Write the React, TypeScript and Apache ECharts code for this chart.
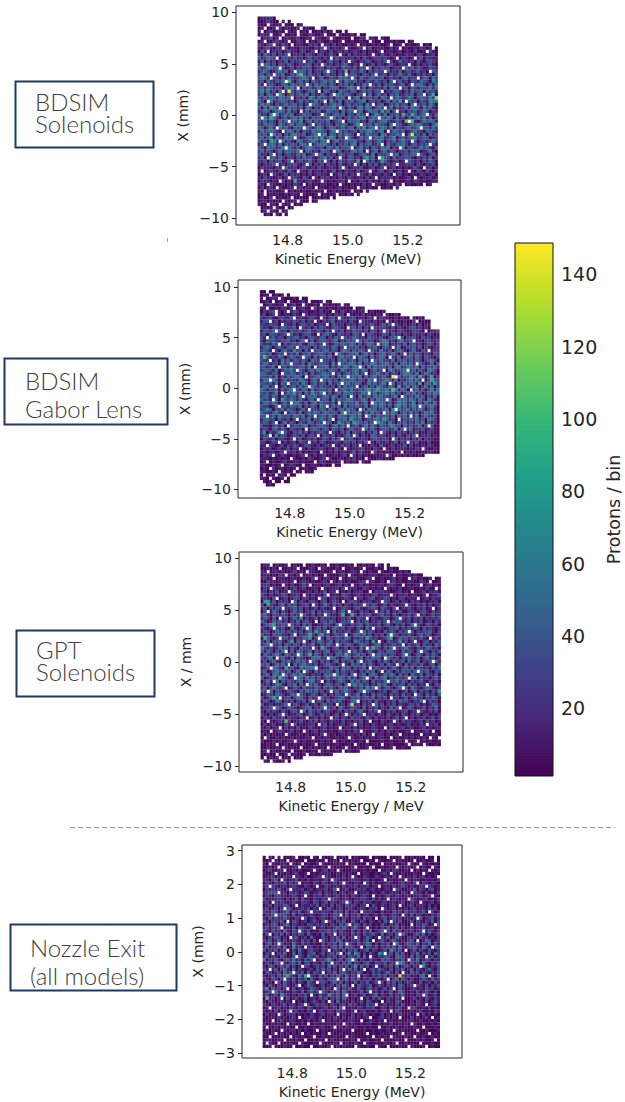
import React, { useEffect, useRef } from "react";
import * as echarts from "echarts";

// Cell levels estimated by eye from the reference picture, not exact bin counts.
// Rows run top to bottom; spaces only group the columns; a row ends where the beam envelope ends.
const LEVEL_VALUES: Record<string, number> = {
  "0": 3, "1": 15, "2": 28, "3": 40, "4": 52, "5": 63, "6": 75, "7": 86, "8": 96, "9": 106, "A": 118, "B": 128, "C": 148, "D": 138,
};
const ENERGY_RANGE = [14.7, 15.3];

const BDSIM_SOLENOIDS_ROWS = [
  "011120",
  "0012100110 0",
  "1001201100 00101",
  "0120010201 1002001000 120",
  "1001200100 1010010100 1020100000",
  "0211300120 0100100210 0110002100 010100",
  "1021301001 1012001101 1002110010 0100210110 0100",
  "0130012101 1002100010 2100200110 0100100210 0100101001 01",
  "2102311031 0201100212 0011020100 1012010010 1001200100 10012010",
  "1023102112 0110211002 1302011020 1001201301 1100201001 0010210100",
  "0313021201 3110220121 0210301212 0121020110 2201101201 1020010210",
  "2042130213 1021203210 2201310210 3021120121 0310210102 1102201120",
  "3124321032 2131202312 1020213121 1202031012 2121013021 0121302111",
  "1503120214 0312201320 3102412031 2210213201 2130201412 1203102321",
  "2234130321 3201213302 1231202134 1021320130 2102310121 3102021310",
  "3125423120 1302132301 2303121042 2130321402 1323012104 2413201321",
  "1342013524 0213431402 2141320219 0321420313 2203121402 3124120132",
  "2413203240 1326931421 3024120314 2331032142 1230312521 4102131203",
  "3541622031 4212353130 2401321534 2130421332 2401312034 1222143042",
  "2304213241 8203413042 1352420315 3241203214 2130432412 0321432053",
  "3152320143 1432420315 2431420324 1302153321 4032321340 2135420314",
  "2415313204 3521042312 5021334012 4523140321 2140531523 0421332514",
  "3625130421 C314202351 2043120532 1430242313 3202134203 1523404231",
  "2404312630 2413425031 1420315424 3102341502 4130324113 2403351380",
  "3142431532 4202130641 5231303240 2135042413 0431524312 530243252A",
  "4203512343 1302413125 1340621503 2413450231 3025142713 3240321654",
  "2534203124 2341302153 2041353402 4132306241 3501425132 0532241530",
  "3051642130 4231405302 1423351240 3204515302 4251503124 1533052410",
  "1243024531 5120314132 4015323051 3413402534 1725034120 3241253021",
  "4120635124 3501242301 2452134240 3215321026 3150324183 2841353214",
  "2352741023 1342513042 3124351302 4132550243 1325304120 4136251302",
  "3241320524 1342603514 2325013420 4335120431 3452114209 3910253441",
  "2153420531 3514420351 4213204253 0146432415 3320514310 2435412036",
  "4302513524 1042335213 5302431241 3405261340 2541503213 4225033142",
  "1524431042 5413042153 4320351423 1230425631 4502153240 1352204321",
  "3241652403 1553240135 2460431425 3204215323 0541325310 4C23150423",
  "2413504215 3452013425 2613640312 5201423524 3512360241 3451243012",
  "4130752241 3105412353 1442035124 3351204312 5303241352 1430221352",
  "1342441503 2431542013 4452130324 1550423412 3505214352 0341324021",
  "3204331250 4213024531 2304315132 4202513042 1535021240 3212524103",
  "2413202514 3325104312 0442135302 1452403125 0341320223 1434012510",
  "3120441302 3114250132 4303120431 2301342150 3224135023 2441320241",
  "1302331420 2203142310 2351302410 3312047240 1732041223 3102131402",
  "2130312301 4102312410 3212030421 3217024130 2731012013 3212031420",
  "1021230120 2231021302 1303120410 2113020314 0212130112 2203102130",
  "0211102103 1120131020 3101210312 0121300120 1230120101 0131021201",
  "1201210210 3102110301 1020130102 1103012110 2301301201 1102103102",
  "0120121013 0212010201 2110201312 0210210301 1021021201 0110210120",
  "1031101201 0221031021 0212010210 2101102013 0111201001 2001011201",
  "0211010120 1081101210 1210101120 1010210301 0202101001 1021010011",
  "1100210010 1021010201 0110010210 0101020101 1001102100 10010101",
  "0201201100 1101201101 0100101201 0100110100 1001001",
  "1010110010 0101010010 1010010100 1101001",
  "0110101001 0110010001 1010011010 1001",
  "0100210100 1100100100 101010",
  "0110101001 0110100001",
  "1000110010 10010",
  "0010101001 01",
  "0010110001",
  "0001001000",
];
const BDSIM_SOLENOIDS_EMPTY = [
  "", "7 9", "3 8 12", "2 6 14 19 20", "1 9 13 17 25 28", "4 8 13 22 26 33", "0 7 18 24 31 36 40", "2 10 16 28 37 41 49", "5 11 21 33 44 48 54", "8 22 29 35 47 58",
  "3 19 41 56", "10 27 38", "6 24 46 52", "15 30 43", "1 21 34 50", "7 36 48", "12 23 42 57", "5 29 39", "4 18 31 53", "9 26 45",
  "2 16 37 51", "13 33 47", "8 20 41", "6 25 35 55", "11 30 44", "3 22 49", "17 38 52", "7 27 42", "14 32 46", "5 21 36 56",
  "1 24 40", "10 28 50", "18 34 45", "6 15 39 54", "8 26 43", "4 20 33 48", "12 29 37", "7 23 51", "2 17 41 57", "9 31 47",
  "14 25 36", "5 19 44 53", "3 27 40", "11 22 35 49", "6 16 32 46", "8 28 42 55", "1 13 37 50", "4 24 33 45", "10 18 39 52", "7 21 30 44",
  "3 15 27 38 48 55", "6 12 19 33 40 45", "2 9 22 31 35 41", "2 14 20 26 32", "5 11 17 24", "8 13 17", "3 7 11", "0 5 9", "0 3 7", "0 1 5 8",
];

const BDSIM_GABOR_ROWS = [
  "00100",
  "0110010100 0",
  "1001210100 010100",
  "0120101100 1001201000 1010",
  "1012101100 1200210010 0010101010",
  "1120010210 2101200120 1101001000 010010",
  "0212301020 1320110010 2010110210 1101100100 01",
  "1301221011 0210320110 2201021200 1010201001 0010010",
  "2123102311 3012102210 1202310211 2301102100 2110010100 01010",
  "1332130212 1321302121 0212402120 3102211020 1021010010 0210100",
  "2213220321 1302321301 2130321202 1203212310 2313021020 1202011",
  "3120231432 2403212031 3210232102 2313021321 2210302101 2312010",
  "1332403120 3223124213 2031421302 1422130320 2331202210 1221020112",
  "2303321232 4120233102 1342103212 0331203210 1320312021 0211202101",
  "3142413203 2341203321 3302142031 2431204221 3102341302 2310312011",
  "2043321324 1202431402 3321340213 2304132201 3541203512 3211023112",
  "3121423031 2324103421 3220142432 4313024312 2450213140 2312013202",
  "1453024213 4212332041 3321430212 3241203241 0331425013 2413021012",
  "2431420352 1623041523 2441320453 1424310321 5213024310 2410323122",
  "3424013241 3150324123 4213024212 3350241302 3412420231 4132021032",
  "2941214302 4312532041 3324103523 2414320512 4303214023 3142032102",
  "3224130524 1331420532 4221305241 3304251432 4221503241 3142023520",
  "2441230524 3221405312 3320514323 4415032541 3352140432 4153201403",
  "3312504231 4223415042 3350314253 1442305142 3314045124 3250413241",
  "2343150243 5214203425 3214320531 2441530241 3505412351 2413205420",
  "4421330532 4313250412 3533414024 2351340235 2140320354 3150243120",
  "3324150314 2453041235 2441305241 3425041351 2410C24132 5417302702",
  "1442530241 3215420341 5324130532 4313205341 2353140213 4251403732",
  "3324150435 2241530241 3305124135 2343015241 3512403152 4317034272",
  "2451340241 3415240531 4221305142 3250241315 4214308125 1430251402",
  "4313250413 5221430512 3324051342 5213247247 3352951430 5241302514",
  "3241260415 3724051642 5313024153 4212530241 3352413024 2513014253",
  "2441530241 3315024351 2441530241 3205124153 4221350241 3152403140",
  "4231730732 5314203415 2330514235 4212530415 3324015342 5314205310",
  "1442530241 3352140351 4221305142 3251240352 4313025341 2503142150",
  "3220154231 4325031420 5331424051 3242150342 5313046241 3520413520",
  "2364032514 3202514231 4315203425 3302415341 2350614235 1425302410",
  "4221352041 3315024253 1442330514 2336041523 1442530241 5130243510",
  "3302415323 1442503241 3315204331 4425036114 2331405241 3150242130",
  "1452304213 0341325042 5314203351 7324013254 2741305132 4251305420",
  "2431320251 3204215313 2443017324 1753241327 4315203241 3142503120",
  "3110241302 1332450213 4320351424 1230251420 3214523041 3124021300",
  "1320341420 3212031342 1330421302 4212031420 2331240312 4021301200",
  "2703127231 0324130212 3210210314 0321302141 2310203120 2130102100",
  "1337071320 1321302313 0321301024 1230210431 2201302103 1310212010",
  "0321302210 2313012130 1320314012 3101210232 1220130212 0213021100",
  "2201321020 1203210120 3201121032 1302130102 1120130210 2130102000",
  "1102101302 1320132102 0121010312 0212010210 3101201130 2010102100",
  "0212012013 0212102011 2101031021 0112201021 0110201110 1021010010",
  "1101201201 1202010110 2101020110 1302100120 1010010101 0100101100",
  "0212010210 0101201020 1200110120 1202010010 1102001010 100100",
  "1110101010 1100102100 1202001101 1201001001 10100",
  "0110100120 0110100010 2100101101 0100100",
  "1100101001 2100100110 0100100",
  "0101201101 0110110010",
  "1100101101 01010010",
  "0101001101 00",
  "1100100110",
  "0101100100",
  "00010",
];
const BDSIM_GABOR_EMPTY = [
  "2", "3 8 10", "1 6 13", "4 9 16 21", "0 8 14 20 27", "2 11 17 31 35", "5 9 24 35 44", "5 14 29 41 47", "11 20 26 38 50 56", "3 18 33 42 52",
  "7 22 44", "13 29 37", "5 24 41 55", "9 19 34", "2 27 46", "15 32 51", "6 21 39", "12 28 44", "4 17 36 56", "8 25 48",
  "14 31 43", "3 20 37", "10 26 52", "6 18 33", "12 41 49", "7 24 35", "15 29 45", "3 20 38 54", "9 27 43", "5 16 32",
  "11 25 50", "7 21 36", "14 30 47", "4 19 42", "10 26 37", "6 22 53", "16 33 45", "8 28 41", "2 18 35 50", "12 24 46",
  "5 21 38", "9 29 56", "15 34 48", "7 23 40", "3 19 31 52", "11 27 44", "6 16 36 49", "2 24 33", "13 28 41 54", "8 20 37 47",
  "4 15 30 42 55", "10 22 35 46", "2 18 27 33", "7 14 24 27", "3 12 19", "6 11 14", "1 5 9", "3 8", "0 4 7", "0 1",
];

const GPT_SOLENOIDS_ROWS = [
  "0110010010 0100100100 1010010001 0100101001 010",
  "0010101001 0110001100 1100010100 1001100010 0101001",
  "1100110100 1201001100 1001201100 1100101001 1001001 010",
  "0110102101 1010011010 0210001201 1001001110 0110101001 0100",
  "1201201100 1100100211 0110100101 1200011100 1001201000 1201001101",
  "0021101110 1001210100 1200102101 0011201100 1001201001 1002101001",
  "1220100210 2001310011 0120012010 1102010101 1012100101 0110012010",
  "0210211020 1301200110 2101120201 1100210101 0110102001 1001020011",
  "1202130110 2110011020 1301110102 0112001021 2110012010 1001201120",
  "2102011320 1120110201 0320110321 0121010220 1110201120 1100120113",
  "1210320120 1320220101 2201210121 0212012301 1320102201 1120120211",
  "0771302120 1402102310 2301320102 3210212011 1320120210 2120101120",
  "2072102403 2301230120 1520312021 0212031320 1302101122 1021302012",
  "1302132011 2413020130 2101301321 0231012320 3210320213 1021301202",
  "0321420310 2413021403 1321302512 2103120101 3140213002 2102310312",
  "2410321320 3120310302 1231102801 8203123012 4120310213 1321201312",
  "1320402130 2416020130 3121201213 1032120210 1320142213 0213021213",
  "3201423120 2140231010 2314201323 1031240213 1301423112 0213012031",
  "0235712320 3120413001 1321043210 3124032113 0231021301 4021032120",
  "2102321300 5102314023 1301431302 1032041312 1013240213 1420312102",
  "1320142313 1413024173 1320412123 0132413201 0413203141 3021324103",
  "3120423110 3502137204 7130231320 1432413021 3041320213 1024132012",
  "0831024231 3021437023 1042132153 0213173120 1248014231 3214102131",
  "2140324103 7032410315 3124041321 0532130713 1032127130 2310240213",
  "1340213042 1320412501 3142103134 2014320134 0212312403 1240312042",
  "5213014250 3104221520 8310240130 2105142832 0314021352 1032143120",
  "3142031520 4053124032 1350124130 2413024103 2143210413 2041320314",
  "0421352043 1205138142 0312043283 1242303124 2313201423 0142031420",
  "2135032410 4032101435 1204310243 0215031423 0142130314 2130241302",
  "1302410325 1242410320 4130250312 4053124103 1420312304 1240213041",
  "3240152413 0413522130 1342102310 4231514201 3042132041 2314102403",
  "0132431072 3105243521 0114230524 0312403142 1302510231 4032120314",
  "2401352314 0251131041 3232051321 3103142402 3142031423 1403241032",
  "1340542041 3425310212 0434251320 5312403530 1425304130 5214032140",
  "3012418320 1243152413 0241324315 1302412041 3502142130 2403120241",
  "0241350413 2134024512 5031024310 5241320412 1403251420 3124103120",
  "2130254103 2504113241 0243132041 3524130215 2410312304 1302141032",
  "1302421320 1320412132 0414103241 0213152413 0231024130 5210243102",
  "3214032013 2104153241 3021241352 1024132102 1301420130 2403120317",
  "0132143201 4313201320 1402132104 1250310413 2103120412 0132041203",
  "2013720123 0244103120 3120123410 3241231402 1302120130 2412031420",
  "1320153021 3021304213 2041324101 3510213041 1021304231 0214103120",
  "3012011240 1320130120 3412041203 D120312041 3021302102 3130201431",
  "0213142013 2101234021 3021304201 3210402130 2104132013 2011302140",
  "1031210310 2312404213 0231012031 2034102130 1021301230 1203102130",
  "2102013120 1123014201 3120130213 0213011202 1031020310 2130120102",
  "0210311302 1102130120 2013120210 3121031020 1020130210 2011201302",
  "1031012192 0113102130 2102110301 0213012010 2101020312 1012031201",
  "0201201021 0301011202 1302011201 3012010210 1012011012 0102101120",
  "1020111020 1030102100 1201012011 0201010210 0102101201 1001201011",
  "0101012101 2010110120 1101002101 0210100120 1021010011 1010120100",
  "1010101001 0011010010 2010100101 1010201001 1010110010 1001010110",
  "0110010100 1010011001 0110010010 1001010101 1001010010 1010100101",
  "1000101001 1010100100 1010010100 1001010000 1001001001 0100101001",
  "0010100010 0100100100 1010010001 0010010010 1001000010 0110010010",
  "0010010010 1001001010 1000100101 0010010100 1001000100",
  "0100100100 1000100100 1010010001 0010",
  "0010010010 0100100100 1001",
  "0101010010 0010",
  "0100100100",
];
const GPT_SOLENOIDS_EMPTY = [
  "3 9 14 22 31 38 41", "6 12 19 27 34 41 46", "2 15 24 33 39 51 55", "8 13 21 29 44 54", "4 18 26 37 49 57", "11 23 35 42 56", "7 16 30 47 53", "3 20 28 41 58", "9 25 36 50", "14 22 43 55",
  "5 19 31 52", "10 27 40", "17 34 48", "7 24 45 57", "2 29 38", "13 21 52", "6 35 46", "18 30 42", "9 26 51", "4 15 37",
  "22 33 49", "11 28 43", "6 19 56", "14 39 51", "3 25 47", "17 35 44", "8 29 53", "12 37 48", "5 22 41", "16 33 57",
  "9 27 45", "3 18 36", "14 40 52", "7 24 31", "11 35 49", "4 20 42", "15 29 55", "8 38 47", "2 23 34", "12 28 51",
  "6 19 43", "17 32 54", "9 25 37", "4 21 46", "13 39 52", "7 28 34", "15 23 48", "2 36 44", "10 19 31 55", "6 26 41",
  "3 14 33 50 57", "8 21 37 46 53", "1 17 29 43 56 59", "11 24 35 52 48", "5 18 31 40 49 54", "7 13 22 28 36 44 50", "2 10 19 27 33", "5 9 15 24", "1 6 10", "0 3 8",
];

const NOZZLE_EXIT_ROWS = [
  "0110010000 1000100100 1001000101 0100010010 0010001000 1001010010",
  "0010101000 1000100010 0100100010 1010001001 0001001000 0100100100",
  "1001001100 1010010010 1000101000 1001010100 1010100100 1000101010",
  "0010100100 1200100100 1001010000 1000101100 1001001011 0100100010",
  "0120011100 1010001010 1201001000 1100101000 0010210010 0010100101",
  "1001201010 1200100101 1110010101 0010110010 1200100100 0100210010",
  "0112010211 0110200112 0210010201 0100210021 0110200101 0201201010",
  "1102300101 1301020110 1200210101 2110120100 1201001021 0110010102",
  "0210211302 1200110210 2101202110 0110120201 0121001201 0210210110",
  "1202101101 2100210110 0210110201 1201120110 0110201210 1002102101",
  "0212131020 1112012011 1201310120 0121201201 0110121001 1402102301",
  "1233301202 1201320113 0210201201 1201120110 2101110210 0211020102",
  "0210221101 2101210212 0210120110 2101210201 0121021011 0112012010",
  "2011121020 1303110210 2102210120 0112210302 0120210101 2101120102",
  "1202212101 2102210320 1302101213 0210212010 1201101200 2102101201",
  "0120211320 1202112130 2103021031 2101210310 2101201101 2011102010",
  "1301202132 0112130210 0131012012 1012102130 2201201010 1201103120",
  "2113201240 2130132121 2110312030 1203212100 2010312031 1201301201",
  "0213022310 3012012101 2201321030 2130120120 2101210310 3021010213",
  "1031211320 0212301201 2101310210 2120312020 2301312011 0104012302",
  "3102213020 3201201310 3021021300 3102102102 0410213001 3021021403",
  "0213301240 2101032121 2102103142 1320312010 3102130100 3021320103",
  "1302132010 2032103201 2010231410 2410231010 2130130201 2011301201",
  "2103120410 3102130102 1231402100 3020314012 4120312011 2012013102",
  "0310213020 2132041010 4021302110 3120312410 5012031410 0231402013",
  "1021320104 2301204100 3102130401 2130142010 2140132002 1203120102",
  "2130140201 2103120401 3102143010 2130240102 3102410102 3020143012",
  "0240213010 5103120100 3021304102 1031243020 2130241023 2130214031",
  "1302130400 5120312010 2102314032 2014032130 2131304102 2310420132",
  "3021301240 2051023110 2130210302 1301240210 1306213020 1302103102",
  "0213021400 5031023401 3023140025 1630203106 4113041300 2140213042",
  "1302103100 2031042130 1021301302 2140503102 1321043210 4031021302",
  "5021310241 5120314102 1372013024 1302103110 4231021300 2140132021",
  "0210324102 3140230210 3024120314 0210241032 1302106410 3120410213",
  "1032013140 2010320131 2041302130 2604130131 0213040132 0213610213",
  "2101302410 5021012031 4130203014 1302102314 2103021401 3021024103",
  "0320120413 0213040321 3021402310 2142010312 0241030210 4130210213",
  "1012031472 1041702104 1302132040 2130210213 130210D212 0103402103",
  "2103102410 3021304102 1032310240 3140213021 0210240310 2001320412",
  "0210230410 2031042102 3102413020 1302140130 2041302012 1003012031",
  "1031021310 1320142101 2012031420 1032124013 1021304201 2021030213",
  "2604120210 3012014210 3120130213 1031024120 1302103100 1201031201",
  "0120312010 2103024120 3102130420 1013024120 2013014200 1020131020",
  "1301206210 1021302103 1072130420 1201301240 2103021400 1021030120",
  "0912012030 1201301203 1302130420 1012020314 1021021300 1201031021",
  "1021012010 2010201310 2012040110 2013032010 1021032000 1021020131",
  "2102101301 2012020131 2102101203 1201031200 1201020300 1021010120",
  "0120120102 1021032010 1201203100 1021021300 2102012000 1200102010",
  "1010201020 1201021302 1021031200 1201201020 1201031000 1012001021",
  "0201012011 2010102101 2011020100 2010210100 2010102101 0010201010",
  "1011020101 2010112102 0010210201 2010121001 2010102000 2010120101",
  "0101012001 1001020102 1010101001 1001002101 0101001001 1001001010",
  "1001010010 1001010110 1010010010 1001011001 0102001010 0100100101",
  "0200101010 0100100101 1001001010 0100101001 0010010010 0100100010",
  "0101000101 1010100100 1000100100 1000100101 0010010100 0010010001",
  "1001001010 1010010100 1001001000 1000100100 1001001001 0010010010",
  "0010001000 0101001000 1000100010 1000010001 0100100010 0100100100",
  "0110010001 0100100101 0001001000 1000010010 1000010010 0010100100",
  "0010010001 0001000100 1000100010 0100010010 0100100010 0001000100",
  "0010100100 1001001001 0010010100 0010010001 0010001000 1000100100",
];
const NOZZLE_EXIT_EMPTY = [
  "1 4 6 11 16 19 24 29 36 42 47 55 58", "3 8 14 21 26 33 38 44 51 58", "2 9 13 19 28 35 40 49 53", "5 12 22 31 37 45 52 57", "7 17 25 39 50 56", "4 15 32 43 54", "10 20 30 46 59", "6 23 41 48", "12 27 34 52", "2 18 39 55",
  "9 25 44", "5 31 50", "14 37 57", "22 42 49", "3 28 53", "11 35 46", "7 19 40", "16 33 56", "4 26 47", "13 38 52",
  "8 21 43", "29 50 58", "6 17 35", "12 41 54", "2 24 46", "9 31 39", "19 37 52", "5 28 44", "14 33 57", "8 22 48",
  "3 26 41", "11 36 55", "17 30 49", "6 23 45", "13 38 53", "2 27 34", "10 20 47", "15 32 56", "7 25 42", "4 18 39",
  "12 30 51", "8 24 44", "3 19 36", "16 28 54", "6 33 47", "10 22 40", "14 38 55", "2 27 49", "9 17 31 43", "5 25 52",
  "12 36 46 57", "3 20 33 41", "8 15 27 50", "1 11 24 39 54", "6 18 30 44 52", "4 13 22 35 47 56", "2 9 17 28 37 43 51", "7 14 21 32 40 48 58", "1 5 12 19 26 34 45 53", "3 10 16 23 31 38 42 49 55",
];

const PANELS = [
  { rows: BDSIM_SOLENOIDS_ROWS, empty: BDSIM_SOLENOIDS_EMPTY, yRange: [-9.8, 9.6], yTicks: [-10, -5, 0, 5, 10], xTitle: "Kinetic Energy (MeV)", yTitle: "X (mm)" },
  { rows: BDSIM_GABOR_ROWS, empty: BDSIM_GABOR_EMPTY, yRange: [-9.7, 9.7], yTicks: [-10, -5, 0, 5, 10], xTitle: "Kinetic Energy (MeV)", yTitle: "X (mm)" },
  { rows: GPT_SOLENOIDS_ROWS, empty: GPT_SOLENOIDS_EMPTY, yRange: [-9.7, 9.5], yTicks: [-10, -5, 0, 5, 10], xTitle: "Kinetic Energy / MeV", yTitle: "X / mm" },
  { rows: NOZZLE_EXIT_ROWS, empty: NOZZLE_EXIT_EMPTY, yRange: [-2.85, 2.85], yTicks: [-3, -2, -1, 0, 1, 2, 3], xTitle: "Kinetic Energy (MeV)", yTitle: "X (mm)" },
];
const ENERGY_TICKS = [14.8, 15.0, 15.2];
const COLORBAR_TICKS = [20, 40, 60, 80, 100, 120, 140];
const VIRIDIS = ["#440154", "#482878", "#3e4989", "#31688e", "#26828e", "#1f9e89", "#35b779", "#6ece58", "#b5de2b", "#fde725"];

const LAYOUT = [
  { left: 236, top: 6, width: 224, height: 219, xMin: 14.628, xMax: 15.374, yMin: -10.68, yMax: 10.62, nameX: 46 },
  { left: 238, top: 280, width: 223, height: 218, xMin: 14.627, xMax: 15.372, yMin: -10.85, yMax: 10.7, nameX: 46 },
  { left: 239, top: 552, width: 224, height: 220, xMin: 14.628, xMax: 15.374, yMin: -10.6, yMax: 10.6, nameX: 46 },
  { left: 242, top: 845, width: 220, height: 213, xMin: 14.63, xMax: 15.375, yMin: -3.15, yMax: 3.17, nameX: 37 },
];
const LABEL_BOXES = [
  { x: 15.5, y: 81.5, w: 138, h: 66, lines: ["BDSIM", "Solenoids"], tx: 35, ty: [101, 123] },
  { x: 4.5, y: 358.5, w: 163, h: 66, lines: ["BDSIM", "Gabor Lens"], tx: 25, ty: [380, 408] },
  { x: 16.5, y: 630.5, w: 138, h: 66, lines: ["GPT", "Solenoids"], tx: 36, ty: [649, 671] },
  { x: 10.5, y: 924.5, w: 166, h: 66, lines: ["Nozzle Exit", "(all models)"], tx: 30, ty: [947, 975] },
];

const FONT = "'DejaVu Sans'";
const INK = "#262626";
const minusSign = (v: number) => String(v).replace("-", "\u2212");

function cellsOf(rows: string[], empty: string[], yRange: number[]) {
  const nx = 60, ny = 60;
  const dx = (ENERGY_RANGE[1] - ENERGY_RANGE[0]) / nx;
  const dy = (yRange[1] - yRange[0]) / ny;
  const out: number[][] = [];
  rows.forEach((row, r) => {
    const clean = row.replace(/ /g, "");
    const holes = new Set((empty[r] || "").split(" ").filter(Boolean).map(Number));
    for (let c = 0; c < clean.length && c < nx; c++) {
      if (holes.has(c)) continue;
      const v = LEVEL_VALUES[clean[c]];
      if (v === undefined) continue;
      const x0 = ENERGY_RANGE[0] + c * dx;
      const y1 = yRange[1] - r * dy;
      out.push([x0, y1 - dy, v, x0 + dx, y1]);
    }
  });
  return out;
}

const renderCell = (_: any, api: any) => {
  const a = api.coord([api.value(0), api.value(4)]);
  const b = api.coord([api.value(3), api.value(1)]);
  return {
    type: "rect",
    shape: { x: a[0], y: a[1], width: b[0] - a[0] + 0.15, height: b[1] - a[1] + 0.15 },
    style: { fill: api.visual("color") },
  };
};

const renderBarCell = (_: any, api: any) => {
  const a = api.coord([api.value(0), api.value(4)]);
  const b = api.coord([api.value(3), api.value(1)]);
  return {
    type: "rect",
    shape: { x: a[0], y: a[1] - 0.8, width: b[0] - a[0], height: b[1] - a[1] + 1.6 },
    style: { fill: api.visual("color") },
  };
};

function buildOption() {
  const grid: any[] = [], xAxis: any[] = [], yAxis: any[] = [], series: any[] = [];
  PANELS.forEach((p, i) => {
    const l = LAYOUT[i];
    grid.push({ left: l.left, top: l.top, width: l.width, height: l.height, show: true, borderColor: INK, borderWidth: 1, backgroundColor: "#fff" });
    xAxis.push({
      gridIndex: i, type: "value", min: l.xMin, max: l.xMax, splitLine: { show: false },
      axisLine: { show: false },
      axisTick: { show: true, length: 4, lineStyle: { color: INK }, customValues: ENERGY_TICKS },
      axisLabel: { color: INK, fontFamily: FONT, fontSize: 14, margin: 8, customValues: ENERGY_TICKS, formatter: (v: number) => v.toFixed(1) },
      name: p.xTitle, nameLocation: "middle", nameGap: 27, nameTextStyle: { color: INK, fontFamily: FONT, fontSize: 14 },
    });
    yAxis.push({
      gridIndex: i, type: "value", min: l.yMin, max: l.yMax, splitLine: { show: false },
      axisLine: { show: false },
      axisTick: { show: true, length: 4, lineStyle: { color: INK }, customValues: p.yTicks },
      axisLabel: { color: INK, fontFamily: FONT, fontSize: 14, margin: 7, customValues: p.yTicks, formatter: minusSign },
      name: p.yTitle, nameLocation: "middle", nameGap: l.nameX, nameRotate: 90, nameTextStyle: { color: INK, fontFamily: FONT, fontSize: 14 },
    });
    series.push({
      type: "custom", coordinateSystem: "cartesian2d", xAxisIndex: i, yAxisIndex: i,
      renderItem: renderCell, data: cellsOf(p.rows, p.empty, p.yRange), encode: { x: [0, 3], y: [1, 4] }, silent: true, clip: false,
    });
  });

  const cb = PANELS.length;
  const barCells: number[][] = [];
  for (let v = 1; v < 149; v++) barCells.push([0, v, v + 0.5, 1, v + 1]);
  grid.push({ left: 515, top: 243, width: 38, height: 533, show: false });
  xAxis.push({ gridIndex: cb, type: "value", min: 0, max: 1, show: false });
  yAxis.push({
    gridIndex: cb, type: "value", position: "right", min: 1.3, max: 148.7, splitLine: { show: false },
    axisLine: { show: false },
    axisTick: { show: true, length: 6, lineStyle: { color: INK }, customValues: COLORBAR_TICKS },
    axisLabel: { color: INK, fontFamily: FONT, fontSize: 19, margin: 8, customValues: COLORBAR_TICKS },
    name: "Protons / bin", nameLocation: "middle", nameGap: 52, nameRotate: 90, nameTextStyle: { color: INK, fontFamily: FONT, fontSize: 17.5, align: "center" },
  });
  series.push({
    type: "custom", coordinateSystem: "cartesian2d", xAxisIndex: cb, yAxisIndex: cb,
    renderItem: renderBarCell, data: barCells, encode: { x: [0, 3], y: [1, 4] }, silent: true, clip: true,
  });

  const graphic: any[] = [
    { type: "rect", shape: { x: 515, y: 243, width: 38, height: 533 }, style: { fill: "none", stroke: "#111", lineWidth: 1 }, z: 50 },
    { type: "line", shape: { x1: 70, y1: 827.5, x2: 615, y2: 827.5 }, style: { stroke: "#9a9a9a", lineWidth: 1.2, lineDash: [5, 3] } },
    { type: "line", shape: { x1: 167.5, y1: 238, x2: 167.5, y2: 242 }, style: { stroke: "#9a9a9a", lineWidth: 1 } },
  ];
  LABEL_BOXES.forEach((b) => {
    graphic.push({ type: "rect", shape: { x: b.x, y: b.y, width: b.w, height: b.h }, style: { fill: "#fff", stroke: "#1f3864", lineWidth: 2 } });
    b.lines.forEach((t, k) => {
      graphic.push({
        type: "text", x: b.tx, y: b.ty[k],
        style: { text: t, fill: "#404040", fontFamily: "Lato", fontWeight: 300, fontSize: 24, lineHeight: 18, verticalAlign: "middle", align: "left" },
      });
    });
  });

  return {
    animation: false, backgroundColor: "#fff", grid, xAxis, yAxis, series, graphic,
    visualMap: { type: "continuous", show: false, min: 1, max: 149, dimension: 2, seriesIndex: [0, 1, 2, 3, 4], inRange: { color: VIRIDIS } },
  };
}

export default function App() {
  const ref = useRef<HTMLDivElement>(null);
  useEffect(() => {
    document.body.style.margin = "0";
    const chart = echarts.init(ref.current!, undefined, { renderer: "svg" });
    chart.setOption(buildOption() as any);
    return () => chart.dispose();
  }, []);
  return <div ref={ref} style={{ width: 625, height: 1102 }} />;
}
